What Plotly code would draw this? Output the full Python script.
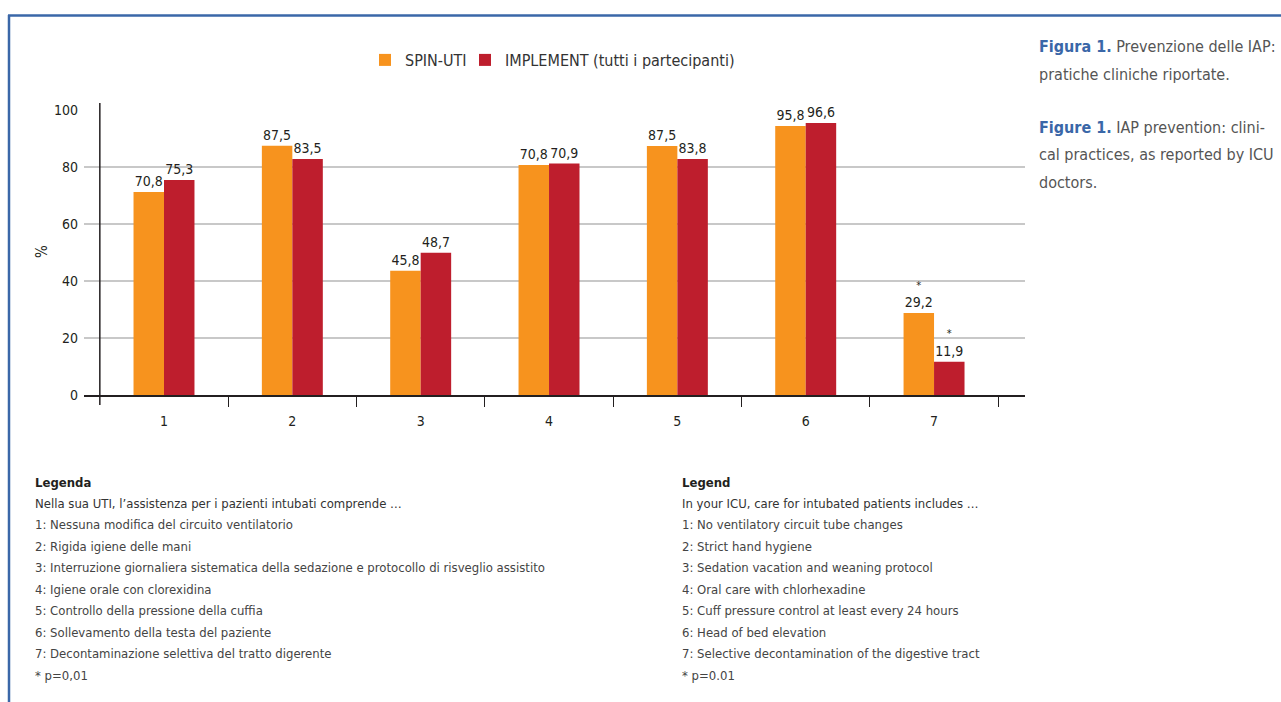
import plotly.graph_objects as go

# ---------------- data ----------------
categories = ["1", "2", "3", "4", "5", "6", "7"]
series_names = ["SPIN-UTI", "IMPLEMENT (tutti i partecipanti)"]
# bar heights as drawn in the figure
spin_values = [71.2, 87.5, 43.6, 80.7, 87.4, 94.4, 28.8]
implement_values = [75.4, 82.8, 49.9, 81.2, 82.8, 95.4, 11.7]
# printed value labels
spin_labels = ["70,8", "87,5", "45,8", "70,8", "87,5", "95,8", "29,2"]
implement_labels = ["75,3", "83,5", "48,7", "70,9", "83,8", "96,6", "11,9"]
significant = [False, False, False, False, False, False, True]
y_ticks = [0, 20, 40, 60, 80, 100]

legend_it = [
    "Nella sua UTI, l’assistenza per i pazienti intubati comprende …",
    "1: Nessuna modifica del circuito ventilatorio",
    "2: Rigida igiene delle mani",
    "3: Interruzione giornaliera sistematica della sedazione e protocollo di risveglio assistito",
    "4: Igiene orale con clorexidina",
    "5: Controllo della pressione della cuffia",
    "6: Sollevamento della testa del paziente",
    "7: Decontaminazione selettiva del tratto digerente",
    "* p=0,01",
]
legend_en = [
    "In your ICU, care for intubated patients includes …",
    "1: No ventilatory circuit tube changes",
    "2: Strict hand hygiene",
    "3: Sedation vacation and weaning protocol",
    "4: Oral care with chlorhexadine",
    "5: Cuff pressure control at least every 24 hours",
    "6: Head of bed elevation",
    "7: Selective decontamination of the digestive tract",
    "* p=0.01",
]

# ---------------- styling ----------------
W, H = 1281, 702
FONT = "Liberation Sans Narrow, DejaVu Sans Condensed, Roboto, Arial, sans-serif"
ORANGE = "#f7931e"
RED = "#be1e2d"
DARK = "#231f20"
TEXT = "#333333"
GRID = "#c8c8c8"
BLUE = "#3a67a8"


def px(x):
    return x / W


def py(y):
    return 1 - y / H


def with_star(labels, sig):
    return [("<span style='font-size:11px'>*</span><br>" + t) if s else t
            for t, s in zip(labels, sig)]


xpos = list(range(len(categories)))

fig = go.Figure()
fig.add_trace(go.Bar(
    x=xpos, y=spin_values, name=series_names[0], marker_color=ORANGE,
    marker_line_width=0, text=with_star(spin_labels, significant),
    textposition="outside", textfont=dict(size=14, color=DARK, family=FONT),
    cliponaxis=False, constraintext="none", legend="legend",
))
fig.add_trace(go.Bar(
    x=xpos, y=implement_values, name=series_names[1], marker_color=RED,
    marker_line_width=0, text=with_star(implement_labels, significant),
    textposition="outside", textfont=dict(size=14, color=DARK, family=FONT),
    cliponaxis=False, constraintext="none", legend="legend2",
))

x_left, x_right = 84, 1025
y_top, y_bot = 110, 395
cat_w = 128.34
r0 = -(164 - x_left) / cat_w
r1 = r0 + (x_right - x_left) / cat_w

legend_style = dict(orientation="h", xanchor="left", y=py(60), yanchor="middle",
                    font=dict(size=16, color=TEXT, family=FONT),
                    bgcolor="rgba(0,0,0,0)", itemclick=False)

fig.update_layout(
    width=W, height=H,
    margin=dict(l=0, r=0, t=0, b=0, autoexpand=False),
    paper_bgcolor="white", plot_bgcolor="white",
    font=dict(family=FONT, color=TEXT, size=14),
    barmode="group", bargap=0.525, bargroupgap=0,
    showlegend=True,
    legend=dict(x=px(365), **legend_style),
    legend2=dict(x=px(465), **legend_style),
    xaxis=dict(
        domain=[px(x_left), px(x_right)], range=[r0, r1],
        tickmode="array", tickvals=xpos, ticktext=categories, ticks="",
        showgrid=False, zeroline=False,
        showline=True, linecolor=DARK, linewidth=1.5,
        tickfont=dict(size=14, color=DARK, family=FONT),
        ticklabelstandoff=12,
        minor=dict(tickmode="array",
                   tickvals=[i + 0.5 for i in range(len(categories))],
                   ticks="outside", ticklen=10, tickwidth=1.2, tickcolor=DARK,
                   showgrid=False),
        fixedrange=True,
    ),
    yaxis=dict(
        domain=[py(y_bot), py(y_top)], range=[0, 100],
        tickmode="array", tickvals=y_ticks, ticks="",
        showgrid=True, gridcolor=GRID, gridwidth=1.5, zeroline=False,
        showline=False,
        tickfont=dict(size=14, color=DARK, family=FONT),
        ticklabelstandoff=5,
        fixedrange=True,
    ),
)

shapes = []
# y-axis line (left category boundary)
shapes.append(dict(type="line", xref="x", yref="paper",
                   x0=-0.5, x1=-0.5, y0=py(405), y1=py(103),
                   line=dict(color=DARK, width=1.5)))
# blue frame
shapes.append(dict(type="line", xref="paper", yref="paper",
                   x0=px(8), x1=1, y0=py(15.5), y1=py(15.5),
                   line=dict(color=BLUE, width=2.5)))
shapes.append(dict(type="line", xref="paper", yref="paper",
                   x0=px(9), x1=px(9), y0=py(15), y1=0,
                   line=dict(color=BLUE, width=2.5)))
fig.update_layout(shapes=shapes)

ann = []
# y-axis title
ann.append(dict(text="%", x=px(42), y=py(252), xref="paper", yref="paper",
                showarrow=False, textangle=-90, xanchor="center", yanchor="middle",
                font=dict(size=15, color=DARK, family=FONT)))

# caption at right
cap = [
    (46, "<b><span style='color:%s'>Figura 1.</span></b> Prevenzione delle IAP:" % BLUE),
    (74, "pratiche cliniche riportate."),
    (128, "<b><span style='color:%s'>Figure 1.</span></b> IAP prevention: clini-" % BLUE),
    (155, "cal practices, as reported by ICU"),
    (182, "doctors."),
]
for yy, t in cap:
    ann.append(dict(text=t, x=px(1037), y=py(yy), xref="paper", yref="paper",
                    showarrow=False, xanchor="left", yanchor="middle",
                    font=dict(size=16, color="#555555", family=FONT)))

# bottom legends
line_y0, line_dy = 482, 21.45
for xx, head, lines in [(33, "Legenda", legend_it), (680, "Legend", legend_en)]:
    ann.append(dict(text="<b>" + head + "</b>", x=px(xx), y=py(line_y0),
                    xref="paper", yref="paper", showarrow=False,
                    xanchor="left", yanchor="middle",
                    font=dict(size=13, color=DARK, family=FONT)))
    for i, t in enumerate(lines):
        ann.append(dict(text=t, x=px(xx), y=py(line_y0 + (i + 1) * line_dy),
                        xref="paper", yref="paper", showarrow=False,
                        xanchor="left", yanchor="middle",
                        font=dict(size=13, color=TEXT if i == 0 else "#444444",
                                  family=FONT)))
fig.update_layout(annotations=ann)

fig.write_html("out.html")
